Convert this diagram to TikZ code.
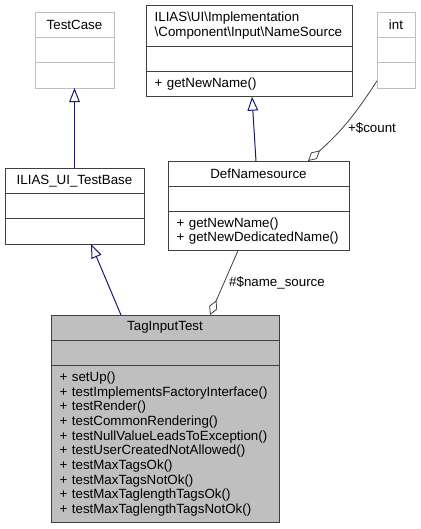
\documentclass[tikz,border=0pt]{standalone}
\usepackage{fontspec}
\setmainfont{Liberation Sans}
\usetikzlibrary{positioning,arrows.meta}

\definecolor{umldark}{HTML}{404040}
\definecolor{umllight}{HTML}{BFBFBF}
\definecolor{umlfill}{HTML}{BFBFBF}
\definecolor{isablue}{HTML}{191970}

\newcommand{\umlfont}{\fontsize{10}{11}\selectfont\hyphenpenalty=10000 \exhyphenpenalty=10000 \relax}

\tikzset{
  part/.style={draw=umldark, line width=0.75pt, inner sep=0pt, outer sep=0pt,
    minimum height=19pt, font=\umlfont},
  ghost/.style={part, draw=umllight},
  ops/.style={align=left, text width=#1},
  isa/.style={draw=isablue, line width=0.75pt, -{Triangle[open, length=10.5pt, width=8pt]}},
  has/.style={draw=umldark, line width=0.6pt, -{Diamond[open, length=12pt, width=6.5pt]}},
  lbl/.style={inner sep=0pt, font=\umlfont}
}

\begin{document}
\begin{tikzpicture}[x=0.75pt, y=-0.75pt]
				\useasboundingbox (0,0) rectangle (421,529);
				
				% base classes
				\node[ghost, anchor=north, minimum width=59.25pt]                 (tcase) at (74.5,12) {TestCase};
				\node[ghost, below=0pt of tcase, minimum width=59.25pt]           (tcase-a) {};
				\node[ghost, below=0pt of tcase-a, minimum width=59.25pt]         (tcase-m) {};
				
				\node[part, anchor=north, minimum width=154.5pt, minimum height=30.75pt, ops=141.5pt] (nsrc) at (249,5) {ILIAS\textbackslash UI\textbackslash Implementation\\\textbackslash Component\textbackslash Input\textbackslash NameSource};
				\node[part, below=0pt of nsrc, minimum width=154.5pt]             (nsrc-a) {};
				\node[part, below=0pt of nsrc-a, minimum width=154.5pt, ops=141.5pt] (nsrc-m) {+~getNewName()};
				
				\node[ghost, anchor=north, minimum width=28.5pt]                  (int) at (396,12) {int};
				\node[ghost, below=0pt of int, minimum width=28.5pt]              (int-a) {};
				\node[ghost, below=0pt of int-a, minimum width=28.5pt]            (int-m) {};
				
				% middle row
				\node[part, anchor=north, minimum width=104.25pt]                 (tbase) at (74.5,168) {ILIAS\_UI\_TestBase};
				\node[part, below=0pt of tbase, minimum width=104.25pt]           (tbase-a) {};
				\node[part, below=0pt of tbase-a, minimum width=104.25pt]         (tbase-m) {};
				
				\node[part, anchor=north, minimum width=135.75pt]                 (defns) at (258.5,161) {DefNamesource};
				\node[part, below=0pt of defns, minimum width=135.75pt]           (defns-a) {};
				\node[part, below=0pt of defns-a, minimum width=135.75pt, minimum height=29.25pt, ops=122.75pt] (defns-m) {+~getNewName()\\+~getNewDedicatedName()};
				
				% the test class
				\node[part, fill=umlfill, anchor=north, minimum width=171pt]      (tagin) at (165,315) {TagInputTest};
				\node[part, fill=umlfill, below=0pt of tagin, minimum width=171pt] (tagin-a) {};
				\node[part, fill=umlfill, below=0pt of tagin-a, minimum width=171pt, minimum height=117.75pt, ops=158pt] (tagin-m) {+~setUp()\\+~testImplementsFactoryInterface()\\+~testRender()\\+~testCommonRendering()\\+~testNullValueLeadsToException()\\+~testUserCreatedNotAllowed()\\+~testMaxTagsOk()\\+~testMaxTagsNotOk()\\+~testMaxTaglengthTagsOk()\\+~testMaxTaglengthTagsNotOk()};
				
				\draw[isa] (tbase.north) -- (tcase-m.south);
				\draw[isa] ([xshift=-1.9pt]defns.north) -- ([xshift=2.25pt]nsrc-m.south);
				\draw[isa] ([xshift=-33pt]tagin.north) -- ([xshift=12.4pt]tbase-m.south);
				
				\draw[has] ([yshift=-4.1pt]int-m.west) to[bend left=8] ([xshift=37.1pt]defns.north);
				\draw[has] ([xshift=-15.4pt]defns-m.south) -- ([xshift=33.75pt]tagin.north);
				
				\node[lbl] (count) at (372,128) {+\$count};
				\node[lbl] (srclbl) at (277,283) {\#\$name\_source};
				
			\end{tikzpicture}
\end{document}
